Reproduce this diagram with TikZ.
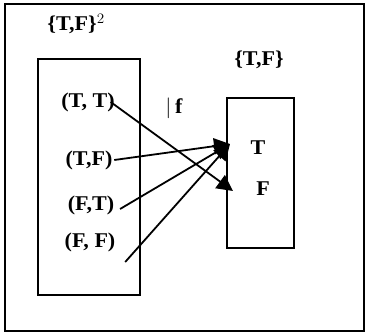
\documentclass[tikz,border=0pt]{standalone}
\usepackage{fontspec}
\setmainfont{Liberation Serif}
\usetikzlibrary{arrows.meta}

\begin{document}
\begin{tikzpicture}[
    x=1pt, y=-1pt,
    line width=1.6pt,
    font=\fontsize{21}{24}\selectfont\bfseries,
    >={Triangle[length=16pt,width=16pt]}
  ]

  \tikzstyle{pair} = [inner sep=1pt, xscale=1.05]
  \tikzstyle{set} = [rectangle, draw, line width=2pt]
  \tikzstyle{map} = [draw, line width=1.8pt, ->]

  \useasboundingbox (0,0) rectangle (369,334);
  \draw[line width=1.4pt] (5,4) rectangle (364,331);

  % domain and codomain
  \node [set, minimum width=102pt, minimum height=236pt] (dom) at (89,177) {};
  \node [set, minimum width=67pt, minimum height=150pt] (cod) at (260,173) {};
  \node [pair] (domlabel) at (76,24) {\{T,F\}$^{\scriptstyle 2}$};
  \node [pair] (codlabel) at (259,60) {\{T,F\}};
  \node [pair] (flabel) at (174,108) {$\big|$\,f};

  \node [pair] (tt) at (88,102) {(T, T)};
  \node [pair] (tf) at (89,160) {(T,F)};
  \node [pair] (ft) at (91,205) {(F,T)};
  \node [pair] (ff) at (90,242) {(F, F)};

  \node [pair] (t) at (258,148) {T};
  \node [pair] (f) at (263,189) {F};

  \coordinate (tipT) at (230,144);
  \coordinate (tipF) at (233,191);

  % the mapping
  \path[map] ([xshift=-6pt]tt.east) -- (tipF);
  \path[map] (tf.east) -- (tipT);
  \path[map] ([shift={(4pt,-4pt)}]ft.east) -- (tipT);
  \path[map] ([shift={(8pt,-20pt)}]ff.east) -- (tipT);

\end{tikzpicture}
\end{document}
